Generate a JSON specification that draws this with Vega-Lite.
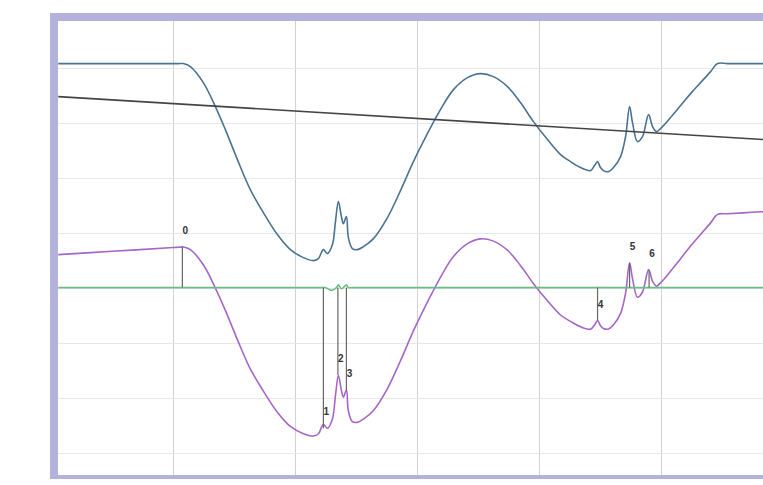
{
  "$schema": "https://vega.github.io/schema/vega-lite/v6.json",
  "width": 721,
  "height": 462,
  "autosize": "none",
  "padding": {"left": 54, "top": 17, "right": 0, "bottom": 0},
  "background": "white",
  "config": {
    "view": {"stroke": "#b2b2dc", "strokeWidth": 8},
    "group": {"strokeForeground": true},
    "axis": {"labels": false, "ticks": false, "domain": false, "title": null, "gridWidth": 1}
  },
  "datasets": {
    "curves": [
      {"series": "signal", "x": 5.5, "y": 407.3}, {"series": "signal", "x": 50, "y": 407.3}, {"series": "signal", "x": 90, "y": 407.3}, {"series": "signal", "x": 104, "y": 407.3}, {"series": "signal", "x": 108.2, "y": 407.3}, {"series": "signal", "x": 114.0, "y": 401.8}, {"series": "signal", "x": 124.6, "y": 372.7}, {"series": "signal", "x": 134.5, "y": 329.1}, {"series": "signal", "x": 142.7, "y": 287.3}, {"series": "signal", "x": 152.6, "y": 232.7}, {"series": "signal", "x": 163.2, "y": 178.2}, {"series": "signal", "x": 173.9, "y": 136.4}, {"series": "signal", "x": 185.4, "y": 96.4}, {"series": "signal", "x": 196.1, "y": 69.1}, {"series": "signal", "x": 206.8, "y": 54.5}, {"series": "signal", "x": 215.0, "y": 49.1}, {"series": "signal", "x": 219.1, "y": 52.7}, {"series": "signal", "x": 223.2, "y": 69.1}, {"series": "signal", "x": 226.5, "y": 61.8}, {"series": "signal", "x": 230.6, "y": 78.2}, {"series": "signal", "x": 233.1, "y": 120.0}, {"series": "signal", "x": 235.5, "y": 156.4}, {"series": "signal", "x": 238.0, "y": 129.1}, {"series": "signal", "x": 239.6, "y": 116.4}, {"series": "signal", "x": 242.1, "y": 129.1}, {"series": "signal", "x": 243.7, "y": 90.9}, {"series": "signal", "x": 247.0, "y": 70.9}, {"series": "signal", "x": 251.1, "y": 69.1}, {"series": "signal", "x": 256.1, "y": 74.5}, {"series": "signal", "x": 264.3, "y": 89.1}, {"series": "signal", "x": 275.8, "y": 127.3}, {"series": "signal", "x": 286.5, "y": 176.4}, {"series": "signal", "x": 297.1, "y": 229.1}, {"series": "signal", "x": 308.6, "y": 280.0}, {"series": "signal", "x": 319.3, "y": 323.6}, {"series": "signal", "x": 330.0, "y": 360.0}, {"series": "signal", "x": 341.5, "y": 381.8}, {"series": "signal", "x": 352.2, "y": 389.1}, {"series": "signal", "x": 362.8, "y": 383.6}, {"series": "signal", "x": 374.3, "y": 365.5}, {"series": "signal", "x": 385.0, "y": 336.4}, {"series": "signal", "x": 395.7, "y": 301.8}, {"series": "signal", "x": 407.2, "y": 269.1}, {"series": "signal", "x": 417.9, "y": 241.8}, {"series": "signal", "x": 426.1, "y": 229.1}, {"series": "signal", "x": 434.3, "y": 218.2}, {"series": "signal", "x": 442.5, "y": 212.7}, {"series": "signal", "x": 445.8, "y": 221.8}, {"series": "signal", "x": 448.3, "y": 229.0}, {"series": "signal", "x": 450.7, "y": 218.2}, {"series": "signal", "x": 453.2, "y": 212.7}, {"series": "signal", "x": 457.3, "y": 210.9}, {"series": "signal", "x": 461.4, "y": 218.2}, {"series": "signal", "x": 467.2, "y": 238.2}, {"series": "signal", "x": 471.3, "y": 274.5}, {"series": "signal", "x": 474.6, "y": 329.1}, {"series": "signal", "x": 477.0, "y": 300.0}, {"series": "signal", "x": 481.1, "y": 265.5}, {"series": "signal", "x": 485.2, "y": 274.5}, {"series": "signal", "x": 490.2, "y": 314.5}, {"series": "signal", "x": 493.5, "y": 292.7}, {"series": "signal", "x": 496.7, "y": 283.6}, {"series": "signal", "x": 500.0, "y": 289.1}, {"series": "signal", "x": 508.2, "y": 309.1}, {"series": "signal", "x": 516.5, "y": 330.9}, {"series": "signal", "x": 524.7, "y": 352.7}, {"series": "signal", "x": 532.9, "y": 372.7}, {"series": "signal", "x": 541.1, "y": 392.7}, {"series": "signal", "x": 546.8, "y": 407.3}, {"series": "signal", "x": 555, "y": 407.3}, {"series": "signal", "x": 575, "y": 407.3}, {"series": "signal", "x": 594.5, "y": 407.3},
      {"series": "trend", "x": 5.5, "y": 347.3}, {"series": "trend", "x": 594.5, "y": 267.8},
      {"series": "detrended", "x": 5.5, "y": 60.0}, {"series": "detrended", "x": 50, "y": 66.0}, {"series": "detrended", "x": 100, "y": 72.8}, {"series": "detrended", "x": 104, "y": 73.3}, {"series": "detrended", "x": 108.2, "y": 73.9}, {"series": "detrended", "x": 114.0, "y": 69.1}, {"series": "detrended", "x": 124.6, "y": 41.5}, {"series": "detrended", "x": 134.5, "y": -0.8}, {"series": "detrended", "x": 142.7, "y": -41.5}, {"series": "detrended", "x": 152.6, "y": -94.7}, {"series": "detrended", "x": 163.2, "y": -147.8}, {"series": "detrended", "x": 173.9, "y": -188.2}, {"series": "detrended", "x": 185.4, "y": -226.6}, {"series": "detrended", "x": 196.1, "y": -252.5}, {"series": "detrended", "x": 206.8, "y": -265.6}, {"series": "detrended", "x": 215.0, "y": -269.9}, {"series": "detrended", "x": 219.1, "y": -265.8}, {"series": "detrended", "x": 223.2, "y": -248.8}, {"series": "detrended", "x": 226.5, "y": -255.7}, {"series": "detrended", "x": 230.6, "y": -238.7}, {"series": "detrended", "x": 233.1, "y": -196.6}, {"series": "detrended", "x": 235.5, "y": -159.8}, {"series": "detrended", "x": 238.0, "y": -186.8}, {"series": "detrended", "x": 239.6, "y": -199.3}, {"series": "detrended", "x": 242.1, "y": -186.3}, {"series": "detrended", "x": 243.7, "y": -224.2}, {"series": "detrended", "x": 247.0, "y": -243.8}, {"series": "detrended", "x": 251.1, "y": -245.0}, {"series": "detrended", "x": 256.1, "y": -239.0}, {"series": "detrended", "x": 264.3, "y": -223.3}, {"series": "detrended", "x": 275.8, "y": -183.5}, {"series": "detrended", "x": 286.5, "y": -133.0}, {"series": "detrended", "x": 297.1, "y": -78.8}, {"series": "detrended", "x": 308.6, "y": -26.4}, {"series": "detrended", "x": 319.3, "y": 18.7}, {"series": "detrended", "x": 330.0, "y": 56.5}, {"series": "detrended", "x": 341.5, "y": 79.9}, {"series": "detrended", "x": 352.2, "y": 88.6}, {"series": "detrended", "x": 362.8, "y": 84.5}, {"series": "detrended", "x": 374.3, "y": 68.0}, {"series": "detrended", "x": 385.0, "y": 40.3}, {"series": "detrended", "x": 395.7, "y": 7.2}, {"series": "detrended", "x": 407.2, "y": -24.0}, {"series": "detrended", "x": 417.9, "y": -49.8}, {"series": "detrended", "x": 426.1, "y": -61.4}, {"series": "detrended", "x": 434.3, "y": -71.2}, {"series": "detrended", "x": 442.5, "y": -75.6}, {"series": "detrended", "x": 445.8, "y": -68.0}, {"series": "detrended", "x": 448.3, "y": -60.0}, {"series": "detrended", "x": 450.7, "y": -69.0}, {"series": "detrended", "x": 453.2, "y": -74.2}, {"series": "detrended", "x": 457.3, "y": -75.4}, {"series": "detrended", "x": 461.4, "y": -67.6}, {"series": "detrended", "x": 467.2, "y": -46.8}, {"series": "detrended", "x": 471.3, "y": -9.9}, {"series": "detrended", "x": 474.6, "y": 45.1}, {"series": "detrended", "x": 477.0, "y": 16.4}, {"series": "detrended", "x": 481.1, "y": -17.6}, {"series": "detrended", "x": 485.2, "y": -8.0}, {"series": "detrended", "x": 490.2, "y": 32.6}, {"series": "detrended", "x": 493.5, "y": 11.3}, {"series": "detrended", "x": 496.7, "y": 2.6}, {"series": "detrended", "x": 500.0, "y": 8.6}, {"series": "detrended", "x": 508.2, "y": 29.7}, {"series": "detrended", "x": 516.5, "y": 52.6}, {"series": "detrended", "x": 524.7, "y": 75.5}, {"series": "detrended", "x": 532.9, "y": 96.6}, {"series": "detrended", "x": 541.1, "y": 117.7}, {"series": "detrended", "x": 546.8, "y": 133.1}, {"series": "detrended", "x": 555, "y": 134.2}, {"series": "detrended", "x": 575, "y": 136.9}, {"series": "detrended", "x": 594.5, "y": 139.5},
      {"series": "baseline", "x": 5.5, "y": 0}, {"series": "baseline", "x": 100, "y": 0}, {"series": "baseline", "x": 200, "y": 0}, {"series": "baseline", "x": 222, "y": 0}, {"series": "baseline", "x": 224.9, "y": 0}, {"series": "baseline", "x": 229.8, "y": -5}, {"series": "baseline", "x": 233.9, "y": 0}, {"series": "baseline", "x": 235.5, "y": 5}, {"series": "baseline", "x": 238.0, "y": -2}, {"series": "baseline", "x": 239.6, "y": 0}, {"series": "baseline", "x": 242.1, "y": 5}, {"series": "baseline", "x": 243.7, "y": 0}, {"series": "baseline", "x": 247, "y": 0}, {"series": "baseline", "x": 300, "y": 0}, {"series": "baseline", "x": 400, "y": 0}, {"series": "baseline", "x": 500, "y": 0}, {"series": "baseline", "x": 594.5, "y": 0}
    ],
    "events": [
      {"id": "0", "x": 107.4, "base": 0, "value": 73.9},
      {"id": "1", "x": 223.2, "base": 0, "value": -256},
      {"id": "2", "x": 235.1, "base": 0, "value": -159},
      {"id": "3", "x": 242.1, "base": 0, "value": -187},
      {"id": "4", "x": 448.3, "base": 0, "value": -60},
      {"id": "5", "x": 474.6, "base": 0, "value": 45},
      {"id": "6", "x": 490.6, "base": 0, "value": 32}
    ]
  },
  "layer": [
    {
      "data": {"name": "curves"},
      "mark": {"type": "line", "interpolate": "catmull-rom", "strokeWidth": 1.6},
      "encoding": {
        "x": {"field": "x", "type": "quantitative", "scale": {"domain": [2, 594], "nice": false, "zero": false},
              "axis": {"values": [100, 200, 300, 400, 500], "gridColor": "#d2d2d2"}},
        "y": {"field": "y", "type": "quantitative", "scale": {"domain": [-348, 492], "nice": false, "zero": false},
              "axis": {"values": [-300, -200, -100, 0, 100, 200, 300, 400], "gridColor": "#e8e8e8"}},
        "color": {"field": "series", "type": "nominal", "legend": null,
                  "scale": {"domain": ["signal", "trend", "detrended", "baseline"], "range": ["#4a7393", "#444444", "#a566c8", "#6cbd84"]}},
        "order": {"field": "x", "type": "quantitative"}
      }
    },
    {
      "data": {"name": "events"},
      "mark": {"type": "rule", "stroke": "#666666", "strokeWidth": 1.2},
      "encoding": {
        "x": {"field": "x", "type": "quantitative"},
        "y": {"field": "base", "type": "quantitative"},
        "y2": {"field": "value"}
      }
    },
    {
      "data": {"name": "events"},
      "mark": {"type": "text", "fontSize": 10, "font": "Liberation Sans", "fontWeight": "bold", "fill": "#333333", "dx": 3, "dy": -16, "align": "center", "baseline": "middle"},
      "encoding": {
        "x": {"field": "x", "type": "quantitative"},
        "y": {"field": "value", "type": "quantitative"},
        "text": {"field": "id"}
      }
    }
  ]
}
